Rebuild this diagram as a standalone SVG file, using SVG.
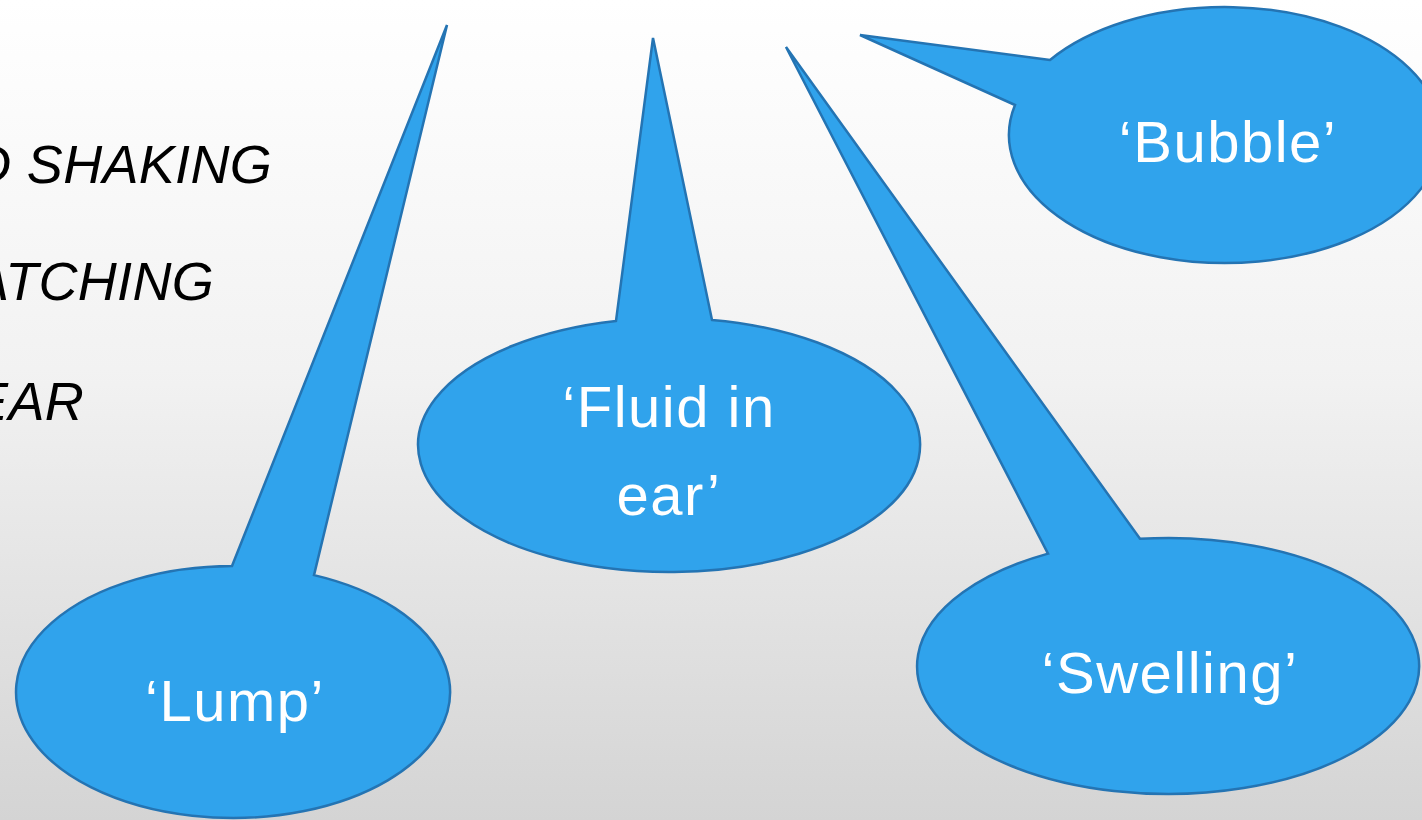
<svg xmlns="http://www.w3.org/2000/svg" width="1422" height="820" viewBox="0 0 1422 820">
<defs>
<linearGradient id="bg" x1="0" y1="0" x2="0" y2="1">
<stop offset="0" stop-color="#ffffff"/>
<stop offset="0.45" stop-color="#f2f2f2"/>
<stop offset="1" stop-color="#d4d4d4"/>
</linearGradient>
</defs>
<style>
.callout{fill:#30a3ec;stroke:#2474b3;stroke-width:2.5;stroke-linejoin:miter}
.lbl{font-family:"Liberation Sans",Arial,sans-serif;font-size:58px;fill:#ffffff;text-anchor:middle;letter-spacing:1.5px}
.side{font-family:"Liberation Sans",Arial,sans-serif;font-size:54px;font-style:italic;fill:#000000;text-anchor:end;letter-spacing:0.3px}
</style>
<rect x="0" y="0" width="1422" height="820" fill="url(#bg)"/>
<g id="side-text">
<text class="side" x="272" y="183">D SHAKING</text>
<text class="side" x="214" y="300">ATCHING</text>
<text class="side" x="84" y="420">EAR</text>
</g>
<g id="lump">
<path class="callout" d="M232,566 L447,25 L314,575.1 A217,126 0 1 1 232,566 Z"/>
<text class="lbl" x="235" y="721">‘Lump’</text>
</g>
<g id="fluid">
<path class="callout" d="M616,320.9 L653,38 L712,319.9 A251,127 0 1 1 616,320.9 Z"/>
<text class="lbl" x="669" y="427">‘Fluid in</text>
<text class="lbl" x="669" y="515">ear’</text>
</g>
<g id="swelling">
<path class="callout" d="M1048,553.6 L786,47 L1140,538.8 A251,128 0 1 1 1048,553.6 Z"/>
<text class="lbl" x="1170" y="693">‘Swelling’</text>
</g>
<g id="bubble">
<path class="callout" d="M1050,60 L860,35 L1015,105 A216,128 0 1 0 1050,60 Z"/>
<text class="lbl" x="1228" y="162">‘Bubble’</text>
</g>
<g id="connectors"></g>
</svg>
